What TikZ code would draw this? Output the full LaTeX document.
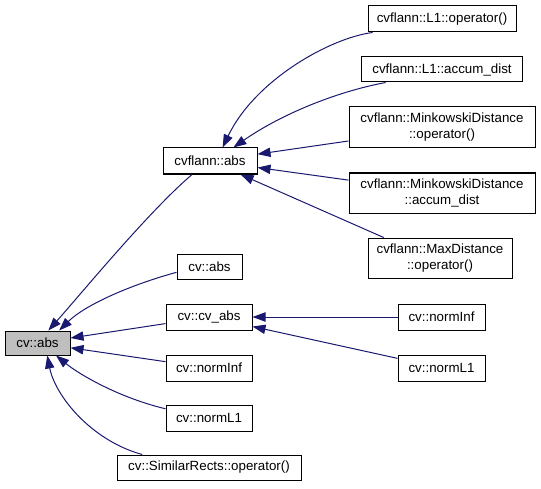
\documentclass[tikz,border=0pt]{standalone}
\usepackage{fontspec}
\setmainfont{Liberation Sans}
\usetikzlibrary{arrows.meta}
\definecolor{edgeblue}{HTML}{191970}
\definecolor{focusgray}{HTML}{BFBFBF}
\tikzset{
  fn/.style 2 args={draw=black, line width=0.75pt, fill=white, inner sep=0pt,
    minimum width=#1*0.75pt, minimum height=#2*0.75pt, align=center,
    font=\fontsize{10}{12}\selectfont},
  focus/.style={fill=focusgray},
  edge/.style={draw=edgeblue, line width=0.75pt,
    -{Triangle[length=9.75pt,width=7pt]}}
}
\begin{document}
\begin{tikzpicture}[x=0.75pt,y=-0.75pt]
\useasboundingbox (0,0) rectangle (541,488);
% left / middle column
\node[fn={65}{24},focus] (cvabs) at (37.5,343) {cv::abs};
\node[fn={94}{26}] (cvfabs) at (210,161) {cvflann::abs};
\node[fn={65}{25}] (cvabstwo) at (209.5,266.5) {cv::abs};
\node[fn={86}{26}] (cvcvabs) at (209,317) {cv::cv\_abs};
\node[fn={86}{26}] (ninf) at (209,368) {cv::normInf};
\node[fn={86}{26}] (nlone) at (209,418) {cv::normL1};
\node[fn={184}{25}] (simr) at (209,467.5) {cv::SimilarRects::operator()};
% right column
\node[fn={148}{26}] (lop) at (442,19) {cvflann::L1::operator()};
\node[fn={161}{25}] (lacc) at (442,69.5) {cvflann::L1::accum\_dist};
\node[fn={186}{41}] (mop) at (442,127.5) {cvflann::MinkowskiDistance\\::operator()};
\node[fn={186}{40}] (macc) at (442,193) {cvflann::MinkowskiDistance\\::accum\_dist};
\node[fn={144}{40}] (maxd) at (440,258) {cvflann::MaxDistance\\::operator()};
\node[fn={87}{26}] (rninf) at (441.5,317) {cv::normInf};
\node[fn={87}{26}] (rnlone) at (441.5,368) {cv::normL1};
% edges into cvflann::abs
\draw[edge] (lop.191) .. controls (330,38) and (255,80) .. (cvfabs.47);
\draw[edge] (lacc.193) .. controls (335,92) and (280,115) .. (cvfabs.30);
\draw[edge] (mop) -- (cvfabs);
\draw[edge] (macc) -- (cvfabs);
\draw[edge] (maxd.160) -- (cvfabs);
% edges into cv::cv_abs
\draw[edge] (rninf) -- (cvcvabs);
\draw[edge] (rnlone) -- (cvcvabs);
% edges into cv::abs
\draw[edge] (cvfabs.217) .. controls (150,210) and (80,295) .. (cvabs.49);
\draw[edge] (cvabstwo.190) .. controls (130,285) and (85,305) .. (cvabs.30);
\draw[edge] (cvcvabs) -- (cvabs);
\draw[edge] (ninf) -- (cvabs);
\draw[edge] (nlone.168) .. controls (120,398) and (80,375) .. (cvabs.326);
\draw[edge] (simr.169) .. controls (90,440) and (55,395) .. (cvabs.308);
\end{tikzpicture}
\end{document}
